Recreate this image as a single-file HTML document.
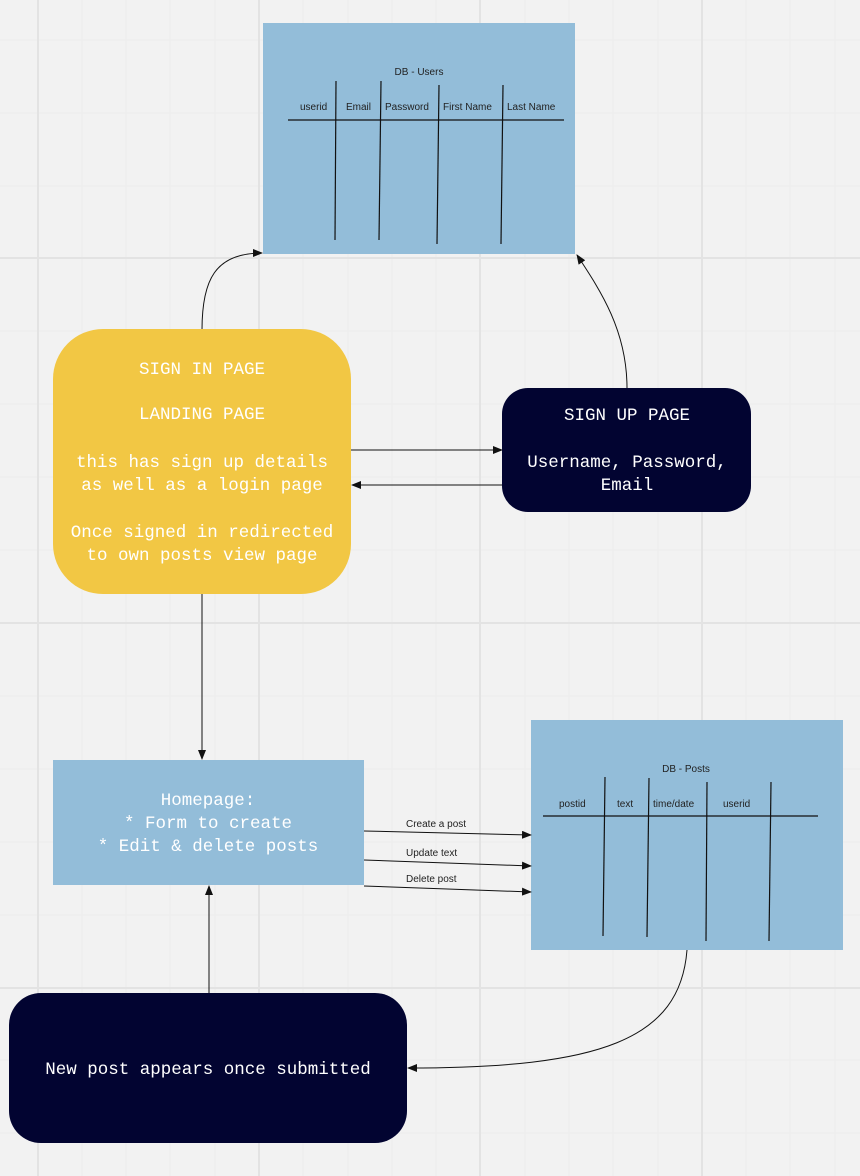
<!DOCTYPE html>
<html><head><meta charset="utf-8"><style>
html,body{margin:0;padding:0;background:#f2f2f2}
svg{display:block}
.m{font-family:"Liberation Mono",monospace;font-size:17.5px;fill:#fff;text-anchor:middle}
.s{font-family:"Liberation Sans",sans-serif;font-size:10px;fill:#222}
</style></head><body>
<svg width="860" height="1176" viewBox="0 0 860 1176" xmlns="http://www.w3.org/2000/svg">
<defs>
<marker id="a" markerWidth="10" markerHeight="8" refX="9" refY="4" orient="auto" markerUnits="userSpaceOnUse">
<path d="M0,0 L10,4 L0,8 Z" fill="#111"/></marker>
</defs>
<g stroke="#ececec" stroke-width="1">
<line x1="82" y1="0" x2="82" y2="1176"/><line x1="126" y1="0" x2="126" y2="1176"/><line x1="170" y1="0" x2="170" y2="1176"/><line x1="215" y1="0" x2="215" y2="1176"/>
<line x1="303" y1="0" x2="303" y2="1176"/><line x1="348" y1="0" x2="348" y2="1176"/><line x1="392" y1="0" x2="392" y2="1176"/><line x1="436" y1="0" x2="436" y2="1176"/>
<line x1="525" y1="0" x2="525" y2="1176"/><line x1="569" y1="0" x2="569" y2="1176"/><line x1="613" y1="0" x2="613" y2="1176"/><line x1="658" y1="0" x2="658" y2="1176"/>
<line x1="746" y1="0" x2="746" y2="1176"/><line x1="790" y1="0" x2="790" y2="1176"/><line x1="835" y1="0" x2="835" y2="1176"/>
<line x1="0" y1="40" x2="860" y2="40"/><line x1="0" y1="113" x2="860" y2="113"/><line x1="0" y1="186" x2="860" y2="186"/>
<line x1="0" y1="331" x2="860" y2="331"/><line x1="0" y1="404" x2="860" y2="404"/><line x1="0" y1="477" x2="860" y2="477"/><line x1="0" y1="550" x2="860" y2="550"/>
<line x1="0" y1="696" x2="860" y2="696"/><line x1="0" y1="769" x2="860" y2="769"/><line x1="0" y1="842" x2="860" y2="842"/><line x1="0" y1="915" x2="860" y2="915"/>
<line x1="0" y1="1060" x2="860" y2="1060"/><line x1="0" y1="1133" x2="860" y2="1133"/>
</g>
<g stroke="#e3e3e3" stroke-width="2">
<line x1="38" y1="0" x2="38" y2="1176"/><line x1="259" y1="0" x2="259" y2="1176"/><line x1="480" y1="0" x2="480" y2="1176"/><line x1="702" y1="0" x2="702" y2="1176"/>
<line x1="0" y1="258" x2="860" y2="258"/><line x1="0" y1="623" x2="860" y2="623"/><line x1="0" y1="988" x2="860" y2="988"/>
</g>

<rect x="263" y="23" width="312" height="231" fill="#93bdd9"/>
<text class="s" x="419" y="75" text-anchor="middle">DB - Users</text>
<text class="s" x="300" y="110">userid</text>
<text class="s" x="346" y="110">Email</text>
<text class="s" x="385" y="110">Password</text>
<text class="s" x="443" y="110">First Name</text>
<text class="s" x="507" y="110">Last Name</text>
<g stroke="#111" stroke-width="1.2">
<line x1="288" y1="120" x2="564" y2="120"/>
<line x1="336" y1="81" x2="335" y2="240"/><line x1="381" y1="81" x2="379" y2="240"/>
<line x1="439" y1="85" x2="437" y2="244"/><line x1="503" y1="85" x2="501" y2="244"/>
</g>

<rect x="531" y="720" width="312" height="230" fill="#93bdd9"/>
<text class="s" x="686" y="772" text-anchor="middle">DB - Posts</text>
<text class="s" x="559" y="807">postid</text>
<text class="s" x="617" y="807">text</text>
<text class="s" x="653" y="807">time/date</text>
<text class="s" x="723" y="807">userid</text>
<g stroke="#111" stroke-width="1.2">
<line x1="543" y1="816" x2="818" y2="816"/>
<line x1="605" y1="777" x2="603" y2="936"/><line x1="649" y1="778" x2="647" y2="937"/>
<line x1="707" y1="782" x2="706" y2="941"/><line x1="771" y1="782" x2="769" y2="941"/>
</g>

<g stroke="#111" stroke-width="1" fill="none">
<path d="M202,330 C202,280 215,253 262,253" marker-end="url(#a)"/>
<path d="M627,388 C627,330 600,290 577,255" marker-end="url(#a)"/>
<path d="M351,450 L502,450" marker-end="url(#a)"/>
<path d="M502,485 L352,485" marker-end="url(#a)"/>
<path d="M202,594 L202,759" marker-end="url(#a)"/>
<path d="M364,831 L531,835" marker-end="url(#a)"/>
<path d="M364,860 L531,866" marker-end="url(#a)"/>
<path d="M364,886 L531,892" marker-end="url(#a)"/>
<path d="M209,993 L209,886" marker-end="url(#a)"/>
<path d="M687,950 C680,1040 600,1068 408,1068" marker-end="url(#a)"/>
</g>
<text class="s" x="406" y="827" font-size="9.5">Create a post</text>
<text class="s" x="406" y="856" font-size="9.5">Update text</text>
<text class="s" x="406" y="882" font-size="9.5">Delete post</text>

<rect x="53" y="329" width="298" height="265" rx="50" fill="#f2c744"/>
<text class="m" x="202" y="374">SIGN IN PAGE</text>
<text class="m" x="202" y="419">LANDING PAGE</text>
<text class="m" x="202" y="467">this has sign up details</text>
<text class="m" x="202" y="490">as well as a login page</text>
<text class="m" x="202" y="537">Once signed in redirected</text>
<text class="m" x="202" y="560">to own posts view page</text>

<rect x="502" y="388" width="249" height="124" rx="26" fill="#020431"/>
<text class="m" x="627" y="420">SIGN UP PAGE</text>
<text class="m" x="627" y="467">Username, Password,</text>
<text class="m" x="627" y="490">Email</text>

<rect x="53" y="760" width="311" height="125" fill="#93bdd9"/>
<text class="m" x="208" y="805">Homepage:</text>
<text class="m" x="208" y="828">* Form to create</text>
<text class="m" x="208" y="851">* Edit &amp; delete posts</text>

<rect x="9" y="993" width="398" height="150" rx="32" fill="#020431"/>
<text class="m" x="208" y="1074">New post appears once submitted</text>
</svg>
</body></html>
